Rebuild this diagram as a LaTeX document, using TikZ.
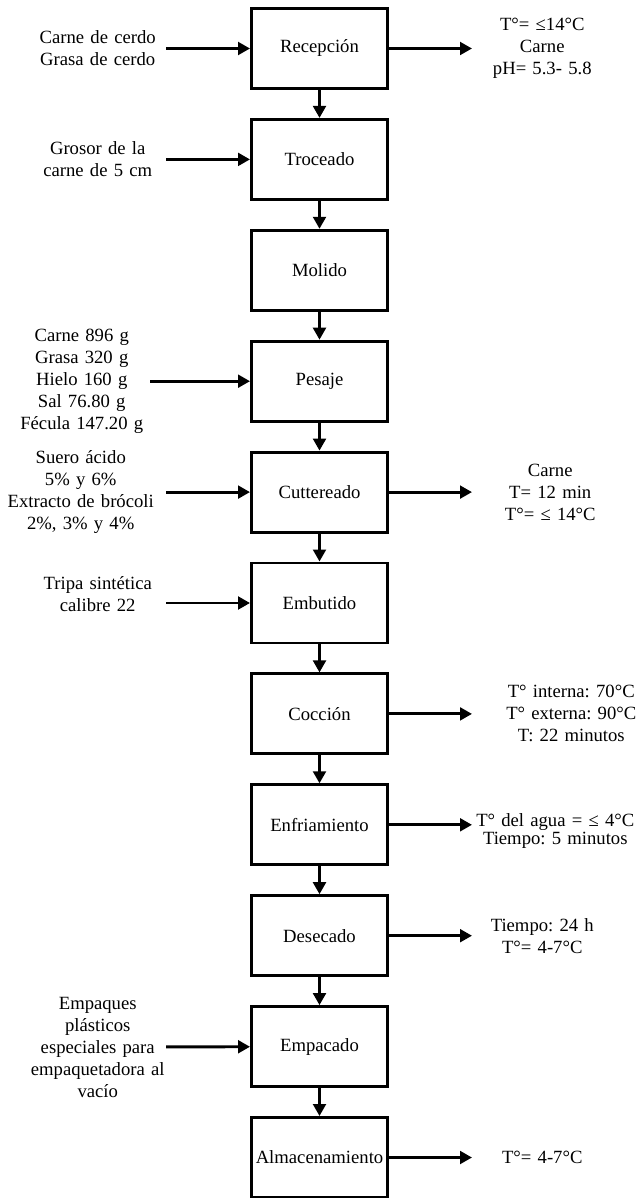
\documentclass[tikz,border=0pt]{standalone}
\usepackage{fontspec}
\setmainfont{Liberation Serif}
\usepackage{tikz}
\usetikzlibrary{arrows.meta}
\frenchspacing

\begin{document}
\begin{tikzpicture}[
  x=0.75pt, y=-0.75pt,
  every node/.style={font=\fontsize{14}{16.5}\selectfont},
  etapa/.style={draw, line width=2.2pt, minimum width=102pt,
                minimum height=60pt, inner sep=0pt, align=center},
  entrada/.style={anchor=east, inner sep=0pt, align=center, text width=102pt},
  salida/.style={anchor=west, inner sep=0pt, align=center},
  flujo/.style={-{Triangle[length=9pt,width=9.5pt]}, line width=2.2pt},
]
\useasboundingbox (0,0) rectangle (636,1198);

% etapas del proceso
\node[etapa] (recep)   at (319.5,48.5)   {Recepción};
\node[etapa] (troc)    at (319.5,159.4)  {Troceado};
\node[etapa] (molido)  at (319.5,270.3)  {Molido};
\node[etapa] (pesaje)  at (319.5,381.2)  {Pesaje};
\node[etapa] (cutter)  at (319.5,492.1)  {Cuttereado};
\node[etapa] (embut)   at (319.5,603)    {Embutido};
\node[etapa] (coccion) at (319.5,713.9)  {Cocción};
\node[etapa] (enfri)   at (319.5,824.8)  {Enfriamiento};
\node[etapa] (deseca)  at (319.5,935.7)  {Desecado};
\node[etapa] (empac)   at (319.5,1046.6) {Empacado};
\node[etapa] (almac)   at (319.5,1157.5) {Almacenamiento};

% entradas
\node[entrada] (in_recep)  at (166,48.5)  {Carne de cerdo\\Grasa de cerdo};
\node[entrada] (in_troc)   at (166,159.4) {Grosor de la\\carne de 5 cm};
\node[entrada] (in_pesaje) at (150,381.2) {Carne 896 g\\Grasa 320 g\\Hielo 160 g\\Sal 76.80 g\\Fécula 147.20 g};
\node[entrada, text width=127.5pt] (in_cutter) at (166,492.1)
  {Suero ácido\\5\% y 6\%\\Extracto de brócoli\\2\%, 3\% y 4\%};
\node[entrada] (in_embut)  at (166,594)   {Tripa sintética\\calibre 22};
\node[entrada] (in_empac)  at (166,1047)  {Empaques\\plásticos\\especiales para\\empaquetadora al\\vacío};

% salidas
\node[salida, text width=105pt]   (out_recep)   at (472,48.5)  {T°= ≤14°C\\Carne\\pH= 5.3- 5.8};
\node[salida, text width=117pt]   (out_cutter)  at (472,492.1) {Carne\\T= 12 min\\T°= ≤ 14°C};
\node[salida, text width=148.5pt] (out_coccion) at (472,713.9) {T° interna: 70°C\\T° externa: 90°C\\T: 22 minutos};
\node[salida, text width=124.5pt, font=\fontsize{14}{13}\selectfont] (out_enfri) at (472,831)
  {T° del agua = ≤ 4°C\\Tiempo: 5 minutos};
\node[salida, text width=105pt]   (out_deseca)  at (472,935.7) {Tiempo: 24 h\\T°= 4-7°C};
\node[salida, text width=105pt]   (out_almac)   at (472,1157.5) {T°= 4-7°C};

% flujo principal
\draw[flujo] (recep) -- (troc);
\draw[flujo] (troc) -- (molido);
\draw[flujo] (molido) -- (pesaje);
\draw[flujo] (pesaje) -- (cutter);
\draw[flujo] (cutter) -- (embut);
\draw[flujo] (embut) -- (coccion);
\draw[flujo] (coccion) -- (enfri);
\draw[flujo] (enfri) -- (deseca);
\draw[flujo] (deseca) -- (empac);
\draw[flujo] (empac) -- (almac);

\draw[flujo] (in_recep) -- (recep);
\draw[flujo] (in_troc) -- (troc);
\draw[flujo] (in_pesaje) -- (pesaje);
\draw[flujo] (in_cutter) -- (cutter);
\draw[flujo] (in_embut.east |- embut) -- (embut);
\draw[flujo] (in_empac) -- (empac);

\draw[flujo] (recep) -- (out_recep);
\draw[flujo] (cutter) -- (out_cutter);
\draw[flujo] (coccion) -- (out_coccion);
\draw[flujo] (enfri) -- (out_enfri.west |- enfri);
\draw[flujo] (deseca) -- (out_deseca);
\draw[flujo] (almac) -- (out_almac);

\end{tikzpicture}
\end{document}
